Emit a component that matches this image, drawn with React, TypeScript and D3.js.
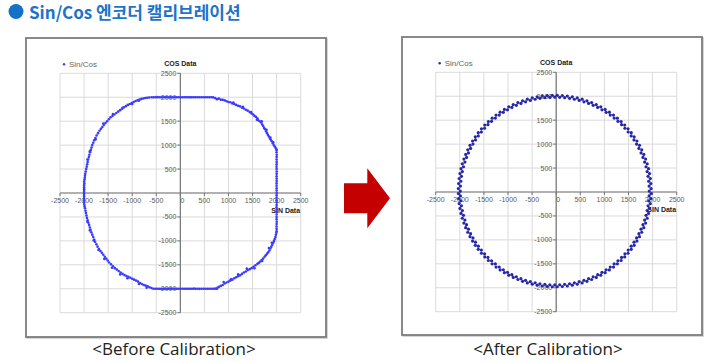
import React from 'react';
import * as d3 from 'd3';

const titleText = 'Sin/Cos 엔코더 캘리브레이션';
const seriesName = 'Sin/Cos';
const xAxisTitle = 'SIN Data';
const yAxisTitle = 'COS Data';
const captionBefore = '<Before Calibration>';
const captionAfter = '<After Calibration>';
const axisTicks = [-2500, -2000, -1500, -1000, -500, 0, 500, 1000, 1500, 2000, 2500];
const yTickLabels = [-2500, -2000, -1500, -1000, -500, 500, 1000, 1500, 2000, 2500];

// [SIN, COS] samples before calibration (clipped, distorted)
const beforePoints: [number, number][] = [
  // top flat
  [-600, 2000], [-560, 1998], [-520, 2000], [-480, 2002], [-440, 2000], [-400, 1999], [-360, 2000], [-320, 2001],
  [-280, 2000], [-240, 2000], [-200, 1998], [-160, 2000], [-120, 2001], [-80, 2000], [-40, 2000], [0, 1999],
  [40, 2000], [80, 2001], [120, 2000], [160, 2000], [200, 1998], [240, 2000], [280, 2001], [320, 2000],
  [360, 2000], [400, 1999], [440, 2000], [480, 2001], [520, 2000], [560, 2000], [600, 1999], [640, 2000], [680, 1998],
  // top-right arc
  [720, 1985], [760, 1960], [800, 1972], [840, 1950], [880, 1945], [920, 1935], [960, 1915], [1000, 1900],
  [1040, 1895], [1080, 1870], [1120, 1860], [1160, 1840], [1200, 1820], [1240, 1810], [1280, 1780], [1320, 1765],
  [1360, 1740], [1400, 1720], [1440, 1690], [1480, 1660], [1510, 1640], [1540, 1610], [1570, 1590], [1600, 1560],
  [1620, 1520], [1650, 1500], [1680, 1470], [1700, 1430], [1720, 1400], [1740, 1360], [1760, 1330], [1780, 1290],
  [1800, 1250], [1820, 1210], [1840, 1180], [1860, 1140], [1880, 1110], [1900, 1080], [1920, 1040], [1940, 1000],
  [1960, 970], [1980, 940], [1995, 910],
  [1100, 1890], [1300, 1800], [1470, 1690], [1590, 1530], [1690, 1500], [1790, 1320], [1870, 1160], [1930, 1060],
  // right flat
  [2000, 900], [1998, 850], [2002, 800], [2000, 750], [1999, 700], [2001, 650], [2000, 600], [1998, 550],
  [2000, 500], [2002, 450], [2000, 400], [1999, 350], [2000, 300], [2001, 250], [2000, 200], [1998, 150],
  [2000, 100], [2000, 50], [2001, 0], [2000, -50], [1999, -100], [2000, -150], [2002, -200], [2000, -250],
  [1998, -300], [2000, -350], [2001, -400], [2000, -450], [1999, -500], [2000, -550], [2002, -600], [2000, -650],
  [1998, -700], [2000, -750], [2000, -800],
  // bottom-right arc
  [1995, -830], [1985, -870], [1975, -920], [1960, -960], [1945, -1000], [1930, -1040], [1910, -1080], [1890, -1120],
  [1870, -1160], [1850, -1200], [1825, -1240], [1800, -1270], [1775, -1300], [1750, -1330], [1720, -1370], [1690, -1400],
  [1660, -1430], [1630, -1460], [1600, -1480], [1560, -1510], [1520, -1540], [1480, -1570], [1440, -1590], [1400, -1610],
  [1360, -1640], [1320, -1660], [1280, -1690], [1240, -1720], [1200, -1740], [1160, -1760], [1120, -1780], [1080, -1810],
  [1040, -1830], [1000, -1850], [960, -1870], [920, -1890], [880, -1920], [840, -1940], [800, -1960], [770, -1980],
  [1900, -1040], [1840, -1150], [1700, -1420], [1540, -1570], [1380, -1580], [1200, -1700], [1050, -1800], [900, -1860],
  // bottom flat
  [760, -2000], [720, -1998], [680, -2000], [640, -2001], [600, -2000], [560, -2000], [520, -1999], [480, -2000],
  [440, -2000], [400, -2002], [360, -2000], [320, -2000], [280, -1998], [240, -2000], [200, -2000], [160, -2001],
  [120, -2000], [80, -2000], [40, -1999], [0, -2000], [-40, -2000], [-80, -2001], [-120, -2000], [-160, -2000],
  [-200, -1998], [-240, -2000], [-280, -2000], [-320, -2001], [-360, -2000], [-400, -2000], [-440, -1999], [-480, -2000],
  [-520, -2000], [-560, -2000],
  // bottom-left arc
  [-600, -1985], [-640, -1970], [-680, -1950], [-720, -1935], [-760, -1920], [-800, -1900], [-840, -1880], [-880, -1850],
  [-920, -1830], [-960, -1810], [-1000, -1790], [-1040, -1770], [-1080, -1750], [-1120, -1735], [-1160, -1715], [-1200, -1690],
  [-1240, -1660], [-1280, -1630], [-1320, -1600], [-1360, -1570], [-1400, -1530], [-1440, -1490], [-1480, -1450], [-1510, -1410],
  [-1540, -1370], [-1570, -1330], [-1600, -1290], [-1630, -1250], [-1660, -1210], [-1690, -1170], [-1720, -1120], [-1745, -1070],
  [-1770, -1020], [-1790, -970], [-1810, -920], [-1830, -870], [-1850, -820], [-1865, -770], [-1880, -720], [-1895, -670],
  [-1910, -620], [-1925, -570], [-1940, -520], [-1950, -470], [-1960, -420], [-1970, -370], [-1980, -320],
  [-700, -1980], [-860, -1900], [-1100, -1780], [-1250, -1700], [-1420, -1560], [-1580, -1380], [-1700, -1190], [-1800, -990],
  [-1880, -780], [-1930, -600],
  // left side
  [-1990, -280], [-1995, -240], [-2000, -200], [-2000, -160], [-1998, -120], [-2000, -80], [-2000, -40], [-2000, 0],
  [-2000, 40], [-1998, 80], [-2000, 120], [-2000, 160], [-1995, 200], [-2000, 240], [-1990, 280], [-1985, 320],
  [-1980, 360], [-1975, 400],
  // top-left arc
  [-1965, 450], [-1955, 500], [-1945, 550], [-1935, 600], [-1925, 650], [-1915, 700], [-1900, 750], [-1890, 800],
  [-1875, 850], [-1860, 900], [-1845, 950], [-1830, 1000], [-1810, 1050], [-1790, 1100], [-1765, 1150], [-1740, 1200],
  [-1710, 1250], [-1680, 1300], [-1650, 1340], [-1620, 1380], [-1590, 1420], [-1555, 1460], [-1520, 1500], [-1485, 1540],
  [-1450, 1580], [-1410, 1610], [-1370, 1640], [-1330, 1670], [-1290, 1700], [-1250, 1730], [-1210, 1760], [-1170, 1790],
  [-1130, 1815], [-1090, 1840], [-1050, 1860], [-1010, 1880], [-970, 1900], [-930, 1920], [-890, 1935], [-850, 1950],
  [-810, 1965], [-770, 1975], [-730, 1985], [-690, 1990], [-650, 1995],
  [-1930, 700], [-1880, 870], [-1760, 1120], [-1600, 1450], [-1400, 1650], [-1200, 1780], [-1000, 1860], [-860, 1930],
];

// [SIN, COS] samples after calibration (circle)
const afterPoints: [number, number][] = [
  [1930, 20], [1927, 123], [1919, 225], [1906, 327], [1887, 427], [1863, 527], [1834, 626], [1800, 722],
  [1760, 817], [1716, 910], [1667, 1000], [1614, 1087], [1556, 1172], [1493, 1253], [1426, 1331], [1356, 1406],
  [1281, 1476], [1203, 1543], [1122, 1606], [1037, 1664], [950, 1717], [860, 1766], [767, 1810], [672, 1850],
  [576, 1884], [477, 1913], [377, 1937], [277, 1956], [175, 1969], [73, 1977],
  [-30, 1980], [-133, 1977], [-235, 1969], [-337, 1956], [-437, 1937], [-537, 1913], [-636, 1884], [-732, 1850],
  [-827, 1810], [-920, 1766], [-1010, 1717], [-1097, 1664], [-1182, 1606], [-1263, 1543], [-1341, 1476], [-1416, 1406],
  [-1486, 1331], [-1553, 1253], [-1616, 1172], [-1674, 1087], [-1727, 1000], [-1776, 910], [-1820, 817], [-1860, 722],
  [-1894, 626], [-1923, 527], [-1947, 427], [-1966, 327], [-1979, 225], [-1987, 123],
  [-1990, 20], [-1987, -83], [-1979, -185], [-1966, -287], [-1947, -387], [-1923, -487], [-1894, -586], [-1860, -682],
  [-1820, -777], [-1776, -870], [-1727, -960], [-1674, -1047], [-1616, -1132], [-1553, -1213], [-1486, -1291], [-1416, -1366],
  [-1341, -1436], [-1263, -1503], [-1182, -1566], [-1097, -1624], [-1010, -1677], [-920, -1726], [-827, -1770], [-732, -1810],
  [-636, -1844], [-537, -1873], [-437, -1897], [-337, -1916], [-235, -1929], [-133, -1937],
  [-30, -1940], [73, -1937], [175, -1929], [277, -1916], [377, -1897], [477, -1873], [576, -1844], [672, -1810],
  [767, -1770], [860, -1726], [950, -1677], [1037, -1624], [1122, -1566], [1203, -1503], [1281, -1436], [1356, -1366],
  [1426, -1291], [1493, -1213], [1556, -1132], [1614, -1047], [1667, -960], [1716, -870], [1760, -777], [1800, -682],
  [1834, -586], [1863, -487], [1887, -387], [1906, -287], [1919, -185], [1927, -83],
  [1969, 72], [1964, 177], [1953, 281], [1937, 384], [1915, 487], [1888, 588], [1855, 688], [1818, 785],
  [1775, 881], [1728, 974], [1675, 1065], [1618, 1153], [1557, 1238], [1491, 1319], [1421, 1397], [1347, 1471],
  [1269, 1541], [1188, 1607], [1103, 1668], [1015, 1725], [924, 1778], [831, 1825], [735, 1868], [638, 1905],
  [538, 1938], [437, 1965], [334, 1987], [231, 2003], [127, 2014], [22, 2019],
  [-82, 2019], [-187, 2014], [-291, 2003], [-394, 1987], [-497, 1965], [-598, 1938], [-698, 1905], [-795, 1868],
  [-891, 1825], [-984, 1778], [-1075, 1725], [-1163, 1668], [-1248, 1607], [-1329, 1541], [-1407, 1471], [-1481, 1397],
  [-1551, 1319], [-1617, 1238], [-1678, 1153], [-1735, 1065], [-1788, 974], [-1835, 881], [-1878, 785], [-1915, 688],
  [-1948, 588], [-1975, 487], [-1997, 384], [-2013, 281], [-2024, 177], [-2029, 72],
  [-2029, -32], [-2024, -137], [-2013, -241], [-1997, -344], [-1975, -447], [-1948, -548], [-1915, -648], [-1878, -745],
  [-1835, -841], [-1788, -934], [-1735, -1025], [-1678, -1113], [-1617, -1198], [-1551, -1279], [-1481, -1357], [-1407, -1431],
  [-1329, -1501], [-1248, -1567], [-1163, -1628], [-1075, -1685], [-984, -1738], [-891, -1785], [-795, -1828], [-698, -1865],
  [-598, -1898], [-497, -1925], [-394, -1947], [-291, -1963], [-187, -1974], [-82, -1979],
  [22, -1979], [127, -1974], [231, -1963], [334, -1947], [437, -1925], [538, -1898], [638, -1865], [735, -1828],
  [831, -1785], [924, -1738], [1015, -1685], [1103, -1628], [1188, -1567], [1269, -1501], [1347, -1431], [1421, -1357],
  [1491, -1279], [1557, -1198], [1618, -1113], [1675, -1025], [1728, -934], [1775, -841], [1818, -745], [1855, -648],
  [1888, -548], [1915, -447], [1937, -344], [1953, -241], [1964, -137], [1969, -32],
];

type Box = { left: number; right: number; top: number; bottom: number };

function Chart(props: {
  frame: Box;
  plot: Box;
  points: [number, number][];
  color: string;
  dotR: number;
  caption: string;
  captionX: number;
}) {
  const { frame, plot, points, color, dotR, caption, captionX } = props;
  const xs = d3.scaleLinear().domain([-2500, 2500]).range([plot.left, plot.right]);
  const ys = d3.scaleLinear().domain([-2500, 2500]).range([plot.bottom, plot.top]);
  const x0 = xs(0);
  const y0 = ys(0);
  const tickFont = { fontFamily: 'Liberation Sans, Arial, sans-serif', fontSize: 7, fill: '#5a5a5a' };
  return (
    <g>
      <rect x={frame.left + 1} y={frame.top + 1} width={frame.right - frame.left} height={frame.bottom - frame.top}
        fill="none" stroke="#c8c8c8" strokeWidth={1.5} />
      <rect x={frame.left} y={frame.top} width={frame.right - frame.left} height={frame.bottom - frame.top}
        fill="#fff" stroke="#7d7d7d" strokeWidth={1.8} />
      {axisTicks.map((t) => (
        <line key={'gv' + t} x1={xs(t)} x2={xs(t)} y1={ys(2500)} y2={ys(-2500)} stroke="#dadada" strokeWidth={1} />
      ))}
      {axisTicks.map((t) => (
        <line key={'gh' + t} x1={xs(-2500)} x2={xs(2500)} y1={ys(t)} y2={ys(t)} stroke="#dadada" strokeWidth={1} />
      ))}
      <line x1={x0} x2={x0} y1={ys(2500)} y2={ys(-2500)} stroke="#777" strokeWidth={1.2} />
      <line x1={xs(-2500)} x2={xs(2500)} y1={y0} y2={y0} stroke="#777" strokeWidth={1.2} />
      {yTickLabels.map((t) => (
        <g key={'yt' + t}>
          <line x1={x0 - 3} x2={x0} y1={ys(t)} y2={ys(t)} stroke="#777" strokeWidth={1} />
          <text x={x0 - 4} y={ys(t)} dy="0.35em" textAnchor="end" {...tickFont}>{t}</text>
        </g>
      ))}
      {axisTicks.map((t) => (
        <g key={'xt' + t}>
          <line x1={xs(t)} x2={xs(t)} y1={y0} y2={y0 + 3} stroke="#777" strokeWidth={1} />
          <text x={xs(t) + (t === 0 ? 2 : 0)} y={y0 + 10} textAnchor="middle" {...tickFont}>{t}</text>
        </g>
      ))}
      <text x={x0} y={plot.top - 7} textAnchor="middle" fontFamily="Liberation Sans, Arial, sans-serif"
        fontSize={7} fontWeight="bold" fill="#222">{yAxisTitle}</text>
      <text x={xs(2500) - 15} y={y0 + 19.5} textAnchor="middle" fontFamily="Liberation Sans, Arial, sans-serif"
        fontSize={7} fontWeight="bold" fill="#222">{xAxisTitle}</text>
      <circle cx={plot.left + 4} cy={plot.top - 9} r={1.2} fill={color} />
      <text x={plot.left + 9} y={plot.top - 9} dy="0.35em" fontFamily="Liberation Sans, Arial, sans-serif"
        fontSize={8} fill="#666">{seriesName}</text>
      {points.map((p, i) => (
        <circle key={i} cx={xs(p[0])} cy={ys(p[1])} r={dotR} fill={color} />
      ))}
      <text x={captionX} y={355} textAnchor="middle" fontFamily="'Open Sans', 'Noto Sans', sans-serif"
        fontSize={17} fill="#222">{caption}</text>
    </g>
  );
}

export default function App() {
  return (
    <div style={{ position: 'absolute', left: 0, top: 0 }}>
      <svg width={725} height={363} style={{ display: 'block', background: '#fff' }}>
        <circle cx={16} cy={11.5} r={7.5} fill="#1570c8" />
        <text x={29} y={19} fontFamily="'Noto Sans CJK KR', 'Noto Sans', sans-serif" fontWeight="bold"
          fontSize={17} fill="#1b74c9">{titleText}</text>
        <Chart
          frame={{ left: 26, right: 326, top: 38, bottom: 337 }}
          plot={{ left: 60, right: 300.7, top: 73.3, bottom: 312.7 }}
          points={beforePoints}
          color="#3b3bff"
          dotR={1.3}
          caption={captionBefore}
          captionX={174}
        />
        <Chart
          frame={{ left: 402, right: 702, top: 37, bottom: 335 }}
          plot={{ left: 435.7, right: 676.7, top: 72.3, bottom: 311.7 }}
          points={afterPoints}
          color="#2626a8"
          dotR={1.6}
          caption={captionAfter}
          captionX={548}
        />
        <polygon
          points="344,183.3 367.3,183.3 367.3,168.3 390,198.3 367.3,228.3 367.3,213.3 344,213.3"
          fill="#c40000"
        />
      </svg>
    </div>
  );
}
